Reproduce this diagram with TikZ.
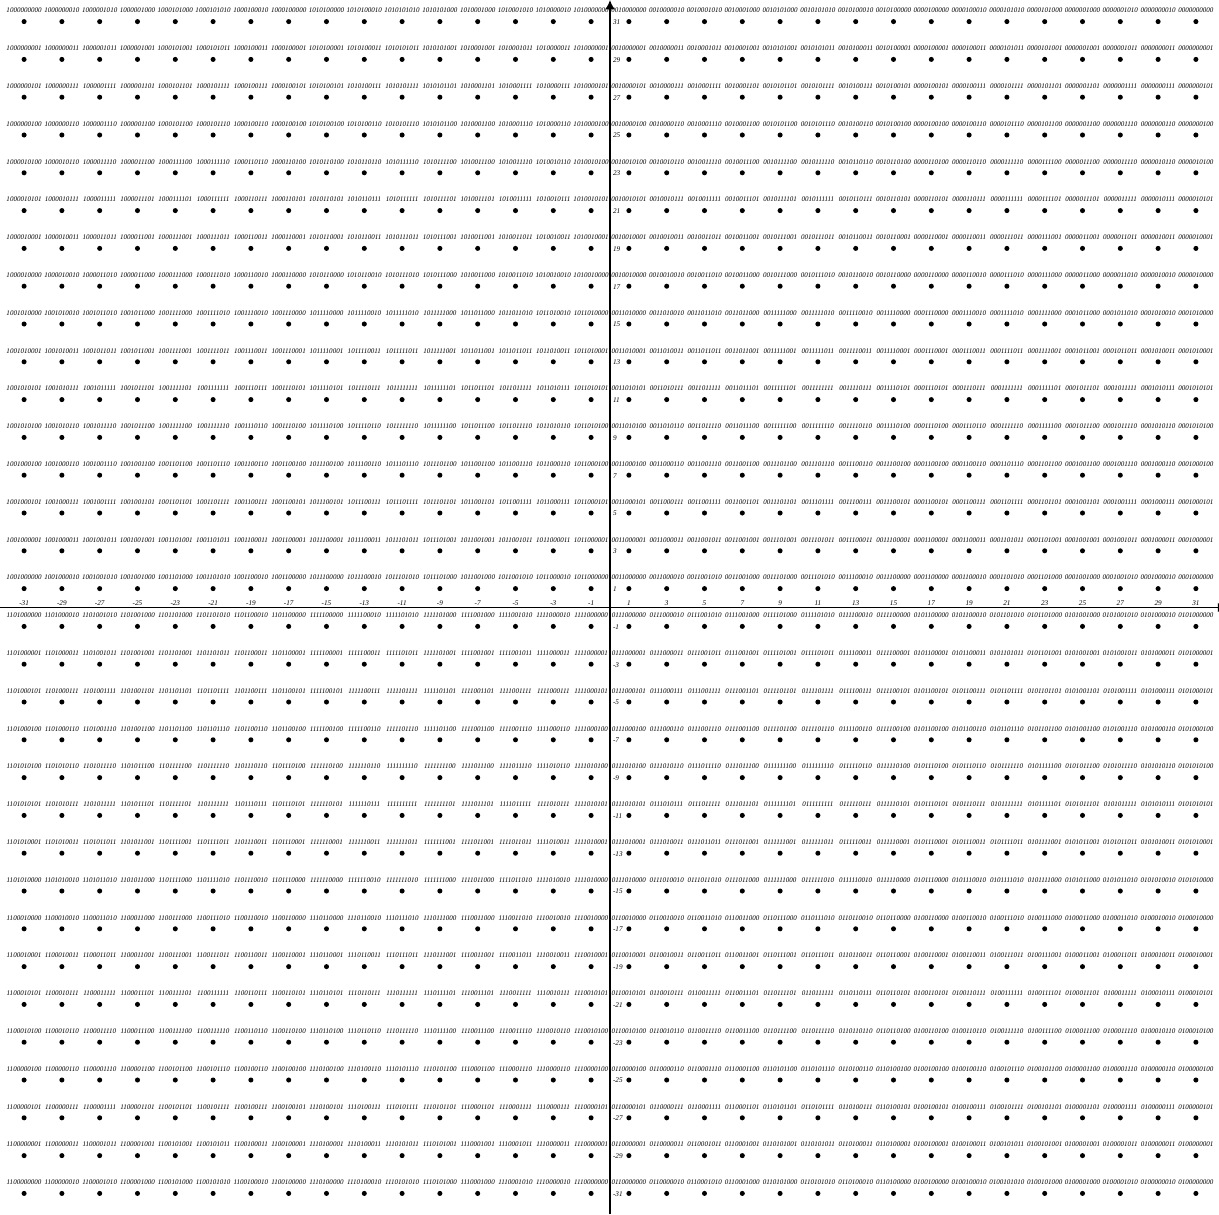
\documentclass[tikz,border=0pt]{standalone}
\usepackage{fontspec}
\setmainfont{Liberation Serif}
\usetikzlibrary{arrows.meta}
\newcommand\graycode[1]{\ifcase\numexpr#1\relax 1000\or 1001\or 1011\or 1010\or 1110\or 1111\or 1101\or 1100\or 0100\or 0101\or 0111\or 0110\or 0010\or 0011\or 0001\or 0000\fi}
\def\ilvbits#1#2#3#4#5#6#7#8{#1#5#2#6#3#7#4#8}
\begin{document}
\begin{tikzpicture}[x=0.5cm,y=0.5cm,
  bitlab/.style={font=\fontsize{5.3pt}{6pt}\selectfont\itshape, inner sep=0pt, anchor=base},
  ticklab/.style={font=\fontsize{5.4pt}{6pt}\selectfont\itshape, inner sep=0pt},
  pt/.style={circle, fill=black, inner sep=0pt, minimum size=3.8pt},
  axis/.style={line width=1.1pt, -{Latex[length=7pt,width=7pt]}}]
\useasboundingbox (-32.275,-32.09) rectangle (32.222,32.143);
\clip (-32.275,-32.09) rectangle (32.222,32.143);
% axes
\coordinate (xl) at (-32.275,0);
\coordinate (xr) at (32.65,0);
\coordinate (yb) at (0,-32.09);
\coordinate (yt) at (0,32.143);
\draw[axis] (xl) -- (xr);
\draw[axis] (yb) -- (yt);
% tick labels
\foreach \t in {-31,-29,...,31}{
  \node[ticklab, anchor=base] (tx\t) at (\t,0.12) {\t};
  \node[ticklab, anchor=west] (ty\t) at (0.15,\t-0.03) {\t};
}
% constellation points with labels
\foreach \i in {0,...,31}{
  \foreach \j in {0,...,31}{
    \pgfmathtruncatemacro\xx{2*\i-31}
    \pgfmathtruncatemacro\yy{2*\j-31}
    \pgfmathtruncatemacro\kx{(abs(\xx)-1)/2}
    \pgfmathtruncatemacro\ky{(abs(\yy)-1)/2}
    \pgfmathtruncatemacro\sx{\xx<0}
    \pgfmathtruncatemacro\sy{\yy<0}
    \edef\Ic{\graycode{\kx}}
    \edef\Qc{\graycode{\ky}}
    \edef\tmp{\noexpand\ilvbits\Ic\Qc}
    \edef\lab{\sx\sy\tmp}
    \node[pt] (P\i-\j) at (\xx,\yy) {};
    \node[bitlab] (L\i-\j) at (\xx,\yy+0.46) {\lab};
  }
}
\end{tikzpicture}
\end{document}
